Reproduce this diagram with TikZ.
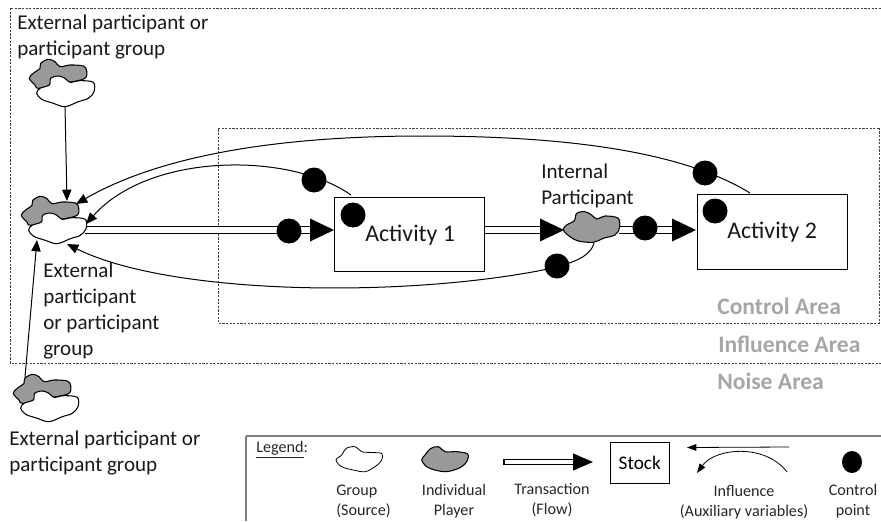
\documentclass[tikz,border=0pt]{standalone}
\usepackage{fontspec}
\setmainfont{Carlito}
\usetikzlibrary{arrows.meta,shapes.geometric}
\tikzset{
  x=.75pt,y=-.75pt,
  area/.style={draw=black!75,line width=.45pt,dash pattern=on 1.6pt off 1.1pt},
  lbl/.style={anchor=west,inner sep=0pt,align=left,font=\fontsize{15.8}{19.5}\selectfont,text=black!90},
  actl/.style={anchor=west,inner sep=0pt,font=\fontsize{17.9}{20}\selectfont,text=black!90},
  leg/.style={anchor=center,inner sep=0pt,align=center,font=\fontsize{12.1}{15}\selectfont,text=black!85},
  legl/.style={anchor=west,inner sep=0pt,align=left,font=\fontsize{12.1}{15}\selectfont,text=black!85},
  areal/.style={anchor=west,inner sep=0pt,font=\fontsize{17.7}{20}\bfseries\selectfont,text=black!35},
  box/.style={draw,line width=.85pt,fill=white,inner sep=0pt},
  cp/.style={circle,fill=black,inner sep=0pt,minimum size=18.75pt},
  infl/.style={line width=.75pt,-{Triangle[length=8.5pt,width=7pt]}},
  flow/.style={double,double distance=4.5pt,line width=1pt,-{Triangle[length=18pt,width=17pt]}},
  clg/.style={draw,line width=.8pt,fill=black!40},
  clw/.style={draw,line width=.8pt,fill=white},
  pics/both/.style={code={
    \draw[clg] plot[smooth cycle,tension=.55] coordinates{(-36.7,-11.7)(-32.7,-16.7)(-26,-21.7)(-25.3,-26.7)(-17.7,-30.7)(-11,-28.3)(-6,-23.3)(4,-25)(17.3,-24)(20.7,-19.3)(19,-11.7)(4,-7.7)(-26,-1.7)(-31,-5)};
    \draw[clw] plot[smooth cycle,tension=.55] coordinates{(-29.3,3.3)(-26,-1.7)(-16.7,-5)(-15.3,-11.7)(-7.7,-14)(-1,-11.7)(4,-7.7)(14,-9.3)(27.3,-7.7)(28,1.7)(22.3,8.3)(12.3,11.7)(-1,16.7)(-12.7,13.3)(-24.3,9.3)};
  }},
  pics/grayint/.style={code={
    \draw[clg] plot[smooth cycle,tension=.55] coordinates{(-27.7,2)(-24.3,-3)(-16.7,-7.3)(-14.3,-14.7)(-6,-16.3)(.7,-13)(5.7,-9)(14,-12)(27.3,-9.7)(28.3,.3)(24,7)(12.3,10.3)(2.3,14.3)(-12.7,13)(-21,8.7)};
  }},
  pics/graylg/.style={code={
    \draw[clg] plot[smooth cycle,tension=.55] coordinates{(-23.3,.5)(-20,-4.5)(-14.3,-11)(-6.7,-12.8)(0,-7.8)(11.7,-7.8)(22.7,-5.5)(21.7,2.2)(15,8.2)(1.7,12.2)(-10,10.5)(-18.3,7.2)};
  }},
  pics/whitelg/.style={code={
    \draw[clw,line width=.6pt] plot[smooth cycle,tension=.55] coordinates{(-24,.5)(-18.3,-4.5)(-14,-11)(-5,-12.8)(1.7,-7.8)(11.7,-7)(21.7,-6)(21.7,.5)(15,7.2)(5,12.2)(-6.7,10.5)(-18.3,7.2)};
  }},
}
\begin{document}
\begin{tikzpicture}
\useasboundingbox (0,0) rectangle (881,521);
% areas
\draw[area] (881,8) -- (10,8) -- (10,363) -- (881,363);
\draw[area] (879,128) -- (218,128) -- (218,323) -- (879,323) -- cycle;
% named points
\coordinate (c1) at (66,90);
\coordinate (c2) at (58,227);
\coordinate (c3) at (50,405);
\coordinate (c4) at (591,228);
\coordinate (c1b) at (65,106);
\coordinate (c2t) at (67,201);
\coordinate (c3t) at (25,377);
\coordinate (c2l) at (37,240);
\coordinate (c2a) at (76,204);
\coordinate (c2b) at (86,224);
\coordinate (c2c) at (67,244);
\coordinate (c4b) at (594,243);
\coordinate (a2t) at (750,193);
\coordinate (a1t) at (351,195);
\coordinate (m1) at (423,136);
\coordinate (m3) at (543,270);
\coordinate (fs) at (85,230);
\coordinate (fe) at (334,230);
\coordinate (f2s) at (485,230);
\coordinate (f2e) at (564,230);
\coordinate (f3s) at (619,230);
\coordinate (f3e) at (696,230);
% influence curves
\draw[line width=.75pt] (a2t) .. controls (680,150) and (560,136) .. (m1);
\draw[infl] (m1) .. controls (300,136) and (170,150) .. (c2a);
\draw[infl] (a1t) .. controls (290,152) and (150,152) .. (c2b);
\draw[line width=.75pt] (c4b) .. controls (590,258) and (570,264) .. (m3);
\draw[infl] (m3) .. controls (400,298) and (170,295) .. (c2c);
% flows
\draw[flow] (fs) -- (fe);
\draw[flow] (f2s) -- (f2e);
\draw[flow] (f3s) -- (f3e);
% boxes
\node[box,minimum width=113pt,minimum height=56pt] (a1) at (409.5,234.5) {};
\node[box,minimum width=112.5pt,minimum height=56.25pt] (a2) at (772.4,231.9) {};
\node[actl] (a1l) at (365,235) {Activity 1};
\node[actl] (a2l) at (727,232) {Activity 2};
% clouds
\pic at (c1) {both};
\pic at (c2) {both};
\pic at (c3) {both};
\pic at (c4) {grayint};
% straight influences
\draw[infl] (c1b) -- (c2t);
\draw[infl] (c3t) -- (c2l);
% control points
\node[cp] (d1) at (289,231) {};
\node[cp] (d2) at (314,180) {};
\node[cp] (d3) at (353,215) {};
\node[cp] (d4) at (557,266) {};
\node[cp] (d5) at (645,228) {};
\node[cp] (d6) at (705,173) {};
\node[cp] (d7) at (715,211) {};
% labels
\node[lbl] (t1) at (17,37) {External participant or\\participant group};
\node[lbl] (t2) at (43,311) {External\\participant\\or participant\\group};
\node[lbl] (t3) at (541,186) {Internal\\Participant};
\node[lbl] (t4) at (9,453) {External participant or\\participant group};
\node[areal] (ca) at (717,306) {Control Area};
\node[areal] (ia) at (718,344) {Influence Area};
\node[areal] (na) at (717,381) {Noise Area};
% legend
\draw[draw=black!50,line width=1.9pt] (881,436) -- (246,436);
\draw[draw=black!50,line width=.9pt] (246,436) -- (246,521);
\node[legl] (lg) at (256,450) {\underline{Legend}:};
\pic at (360,459.5) {whitelg};
\pic at (445,459.5) {graylg};
\coordinate (lfs) at (504,462);
\coordinate (lfe) at (593,462);
\draw[flow,double distance=3.4pt,line width=.8pt,-{Triangle[length=15pt,width=12.75pt]}] (lfs) -- (lfe);
\draw[line width=.8pt] ([yshift=2.1pt]lfs) -- ([yshift=-2.1pt]lfs);
\node[box,line width=.7pt,minimum width=44.25pt,minimum height=30.75pt,font=\fontsize{14.4}{16}\selectfont] (st) at (639.7,462.8) {Stock};
\coordinate (li1) at (789,447);
\coordinate (li2) at (687,447.5);
\coordinate (li3) at (787,472);
\coordinate (li4) at (697,473);
\draw[line width=.6pt,-{Triangle[length=7pt,width=5pt]}] (li1) -- (li2);
\draw[line width=.6pt,-{Triangle[length=7pt,width=5pt]}] (li3) .. controls (765,443) and (715,448) .. (li4);
\node[fill=black,ellipse,inner sep=0pt,minimum width=15pt,minimum height=16.5pt] (lcp) at (852,462) {};
\node[legl] (l1) at (336,501) {Group\\(Source)};
\node[leg] (l2) at (454,501) {Individual\\Player};
\node[leg] (l3) at (552,500) {Transaction\\(Flow)};
\node[leg] (l4) at (744,502) {Influence\\(Auxiliary variables)};
\node[leg] (l5) at (853,501) {Control\\point};
\end{tikzpicture}
\end{document}
